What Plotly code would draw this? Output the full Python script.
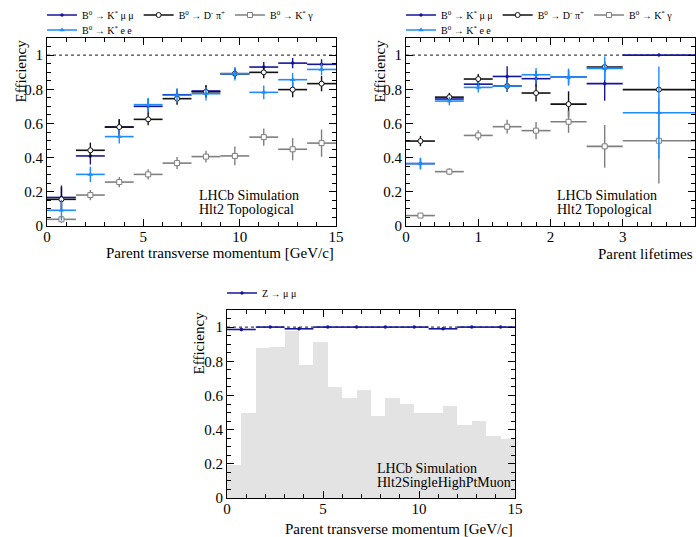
import plotly.graph_objects as go

# ---------------- data ----------------
pt_centers = [0.75, 2.25, 3.75, 5.25, 6.75, 8.25, 9.75, 11.25, 12.75, 14.25]
pt_halfwidth = [0.75] * 10

pt_kmumu = [0.167, 0.41, 0.579, 0.70, 0.768, 0.79, 0.891, 0.93, 0.953, 0.946]
pt_kmumu_err = [0.07, 0.05, 0.045, 0.045, 0.035, 0.035, 0.03, 0.03, 0.03, 0.03]
pt_dpi = [0.156, 0.443, 0.579, 0.624, 0.745, 0.785, 0.891, 0.899, 0.798, 0.833]
pt_dpi_err = [0.07, 0.045, 0.045, 0.035, 0.035, 0.035, 0.03, 0.035, 0.045, 0.045]
pt_kgamma = [0.039, 0.181, 0.257, 0.302, 0.368, 0.406, 0.41, 0.52, 0.449, 0.485]
pt_kgamma_err = [0.02, 0.03, 0.03, 0.03, 0.035, 0.035, 0.055, 0.05, 0.065, 0.08]
pt_kee = [0.092, 0.302, 0.523, 0.71, 0.765, 0.774, 0.891, 0.782, 0.856, 0.916]
pt_kee_err = [0.06, 0.045, 0.04, 0.04, 0.04, 0.04, 0.04, 0.04, 0.04, 0.035]

tau_centers = [0.2, 0.6, 1.0, 1.4, 1.8, 2.25, 2.75, 3.5]
tau_halfwidth = [0.2, 0.2, 0.2, 0.2, 0.2, 0.25, 0.25, 0.5]

tau_kmumu = [0.365, 0.743, 0.83, 0.875, 0.862, 0.871, 0.833, 1.0]
tau_kmumu_err = [0.03, 0.02, 0.03, 0.06, 0.045, 0.04, 0.10, 0.0]
tau_dpi = [0.497, 0.754, 0.86, 0.819, 0.778, 0.713, 0.93, 0.798]
tau_dpi_err = [0.03, 0.025, 0.03, 0.035, 0.05, 0.075, 0.03, 0.0]
tau_kgamma = [0.061, 0.318, 0.53, 0.581, 0.558, 0.61, 0.466, 0.499]
tau_kgamma_err = [0.01, 0.02, 0.03, 0.04, 0.05, 0.065, 0.125, 0.25]
tau_kee = [0.365, 0.731, 0.811, 0.819, 0.885, 0.871, 0.922, 0.663]
tau_kee_err = [0.035, 0.025, 0.03, 0.035, 0.04, 0.05, 0.07, 0.27]

z_centers = [0.75, 2.25, 3.75, 5.25, 6.75, 8.25, 9.75, 11.25, 12.75, 14.25]
z_halfwidth = [0.75] * 10
z_mumu = [0.986, 1.0, 0.99, 1.0, 1.0, 1.0, 1.0, 0.99, 1.0, 1.0]
z_mumu_err = [0.01, 0.0, 0.008, 0.0, 0.0, 0.0, 0.0, 0.006, 0.0, 0.0]

hist_centers = [0.375, 1.125, 1.875, 2.625, 3.375, 4.125, 4.875, 5.625, 6.375, 7.125,
                7.875, 8.625, 9.375, 10.125, 10.875, 11.625, 12.375, 13.125, 13.875, 14.625]
hist_width = 0.75
hist_values = [0.195, 0.50, 0.875, 0.885, 0.98, 0.78, 0.91, 0.65, 0.585, 0.63,
               0.48, 0.585, 0.55, 0.50, 0.50, 0.54, 0.43, 0.45, 0.365, 0.345]

labels = {
    "kmumu": "B<sup>0</sup> → K<sup>*</sup> μ μ",
    "dpi": "B<sup>0</sup> → D<sup>-</sup> π<sup>+</sup>",
    "kgamma": "B<sup>0</sup> → K<sup>*</sup> γ",
    "kee": "B<sup>0</sup> → K<sup>*</sup> e e",
    "zmumu": "Z → μ μ",
}

# ---------------- styles ----------------
FONT = "Liberation Serif"
NAVY = "#16169a"
BLACK = "#111111"
GREY = "#7f7f7f"
BLUE = "#1e8cff"
HISTC = "#e3e3e3"

styles = {
    "kmumu": dict(color=NAVY, fill=NAVY, symbol="circle", size=3.5, lw=0),
    "dpi": dict(color=BLACK, fill="white", symbol="circle", size=5, lw=1),
    "kgamma": dict(color=GREY, fill="white", symbol="square", size=5, lw=1),
    "kee": dict(color=BLUE, fill=BLUE, symbol="triangle-up", size=5, lw=0),
}

W, H = 696, 537
def px(x):
    return x / W
def py(y):
    return 1 - y / H

fig = go.Figure()

def add_series(key, x, xerr, y, yerr, xa, ya, legend):
    st = styles[key]
    mk = dict(color=st["fill"], symbol=st["symbol"], size=st["size"],
              line=dict(color=st["color"], width=st["lw"]))
    fig.add_trace(go.Scatter(
        x=x, y=y, mode="markers", xaxis=xa, yaxis=ya, showlegend=False, marker=mk,
        error_x=dict(type="data", array=xerr, width=0, thickness=1.6, color=st["color"]),
        error_y=dict(type="data", array=yerr, width=0, thickness=1.4, color=st["color"]),
    ))
    fig.add_trace(go.Scatter(
        x=[None], y=[None], mode="lines+markers", xaxis=xa, yaxis=ya, name=labels[key],
        legend=legend, showlegend=True,
        line=dict(color=st["color"], width=1.5), marker=mk,
    ))

# top-left panel
add_series("kmumu", pt_centers, pt_halfwidth, pt_kmumu, pt_kmumu_err, "x", "y", "legend")
add_series("dpi", pt_centers, pt_halfwidth, pt_dpi, pt_dpi_err, "x", "y", "legend")
add_series("kgamma", pt_centers, pt_halfwidth, pt_kgamma, pt_kgamma_err, "x", "y", "legend")
add_series("kee", pt_centers, pt_halfwidth, pt_kee, pt_kee_err, "x", "y", "legend2")

# top-right panel
add_series("kmumu", tau_centers, tau_halfwidth, tau_kmumu, tau_kmumu_err, "x2", "y2", "legend3")
add_series("dpi", tau_centers, tau_halfwidth, tau_dpi, tau_dpi_err, "x2", "y2", "legend3")
add_series("kgamma", tau_centers, tau_halfwidth, tau_kgamma, tau_kgamma_err, "x2", "y2", "legend3")
add_series("kee", tau_centers, tau_halfwidth, tau_kee, tau_kee_err, "x2", "y2", "legend4")

# bottom panel
fig.add_trace(go.Bar(
    x=hist_centers, y=hist_values, width=hist_width, xaxis="x3", yaxis="y3",
    marker=dict(color=HISTC, line=dict(width=0)), showlegend=False,
))
fig.add_trace(go.Scatter(
    x=z_centers, y=z_mumu, mode="markers", xaxis="x3", yaxis="y3", showlegend=False,
    marker=dict(color=NAVY, symbol="circle", size=3.5),
    error_x=dict(type="data", array=z_halfwidth, width=0, thickness=1.6, color=NAVY),
    error_y=dict(type="data", array=z_mumu_err, width=0, thickness=1.4, color=NAVY),
))
fig.add_trace(go.Scatter(
    x=[None], y=[None], mode="lines+markers", xaxis="x3", yaxis="y3", name=labels["zmumu"],
    legend="legend5", showlegend=True,
    line=dict(color=NAVY, width=1.5), marker=dict(color=NAVY, symbol="circle", size=3.5),
))

def xaxis(domain, rng, dtick, mdtick, anchor):
    return dict(domain=domain, range=rng, dtick=dtick, tick0=0, anchor=anchor, automargin=False,
                showline=True, linecolor="black", linewidth=1, mirror="ticks",
                ticks="inside", ticklen=7, tickwidth=1, tickcolor="black",
                minor=dict(ticks="inside", ticklen=4, dtick=mdtick, tick0=0, tickcolor="black", tickwidth=1),
                showgrid=False, zeroline=False, ticklabelstandoff=-3,
                tickfont=dict(family=FONT, size=15, color="black"))

def yaxis(domain, anchor):
    return dict(domain=domain, range=[0, 1.1], dtick=0.2, tick0=0, anchor=anchor, automargin=False,
                showline=True, linecolor="black", linewidth=1, mirror="ticks",
                ticks="inside", ticklen=7, tickwidth=1, tickcolor="black",
                minor=dict(ticks="inside", ticklen=4, dtick=0.05, tick0=0, tickcolor="black", tickwidth=1),
                showgrid=False, zeroline=False,
                tickfont=dict(family=FONT, size=15, color="black"))

tl_x = [px(47), px(336)]
tr_x = [px(406), px(695)]
top_y = [py(226), py(38)]
bt_x = [px(227), px(515)]
bt_y = [py(498), py(310)]

legend_common = dict(orientation="h", bgcolor="rgba(0,0,0,0)", borderwidth=0,
                     font=dict(family=FONT, size=10, color="black"),
                     xanchor="left", yanchor="middle", itemwidth=30, tracegroupgap=0)

fig.update_layout(
    template="none",
    width=W, height=H, margin=dict(l=0, r=0, t=0, b=0, autoexpand=False),
    paper_bgcolor="white", plot_bgcolor="white",
    font=dict(family=FONT, color="black"),
    bargap=0,
    xaxis=xaxis(tl_x, [0, 15], 5, 1, "y"),
    yaxis=yaxis(top_y, "x"),
    xaxis2=xaxis(tr_x, [0, 4], 1, 0.2, "y2"),
    yaxis2=yaxis(top_y, "x2"),
    xaxis3=xaxis(bt_x, [0, 15], 5, 1, "y3"),
    yaxis3=yaxis(bt_y, "x3"),
    legend=dict(legend_common, x=px(42), y=py(15)),
    legend2=dict(legend_common, x=px(42), y=py(30)),
    legend3=dict(legend_common, x=px(401), y=py(15)),
    legend4=dict(legend_common, x=px(401), y=py(30)),
    legend5=dict(legend_common, x=px(222), y=py(293)),
)

# dotted reference lines at efficiency = 1
for xa, ya in [("x", "y"), ("x2", "y2"), ("x3", "y3")]:
    fig.add_shape(type="line", xref=f"{xa} domain", yref=ya, x0=0, x1=1, y0=1, y1=1,
                  line=dict(color="#444444", width=1.2, dash="dot"), layer="below")

ann = []
def text(x, y, s, xanchor="left", size=14, angle=0, yanchor="middle"):
    ann.append(dict(x=x, y=y, xref="paper", yref="paper", text=s, showarrow=False,
                    xanchor=xanchor, yanchor=yanchor, textangle=angle,
                    font=dict(family=FONT, size=size, color="black")))

text(px(197), py(195), "LHCb Simulation")
text(px(197), py(209), "Hlt2 Topological")
text(px(555), py(195), "LHCb Simulation")
text(px(555), py(209), "Hlt2 Topological")
text(px(375), py(468), "LHCb Simulation")
text(px(375), py(482), "Hlt2SingleHighPtMuon")

text(px(336), py(253), "Parent transverse momentum [GeV/c]", xanchor="right", size=15)
text(px(695), py(254), "Parent lifetimes", xanchor="right", size=15)
text(px(515), py(529), "Parent transverse momentum [GeV/c]", xanchor="right", size=15)

text(px(20), py(38), "Efficiency", xanchor="center", angle=-90, yanchor="top", size=15)
text(px(379), py(38), "Efficiency", xanchor="center", angle=-90, yanchor="top", size=15)
text(px(199), py(310), "Efficiency", xanchor="center", angle=-90, yanchor="top", size=15)

fig.update_layout(annotations=ann)

fig.write_html(
    "out.html",
    config={"displayModeBar": False},
    post_script="document.body.style.margin='0';document.body.style.overflow='hidden';",
)
